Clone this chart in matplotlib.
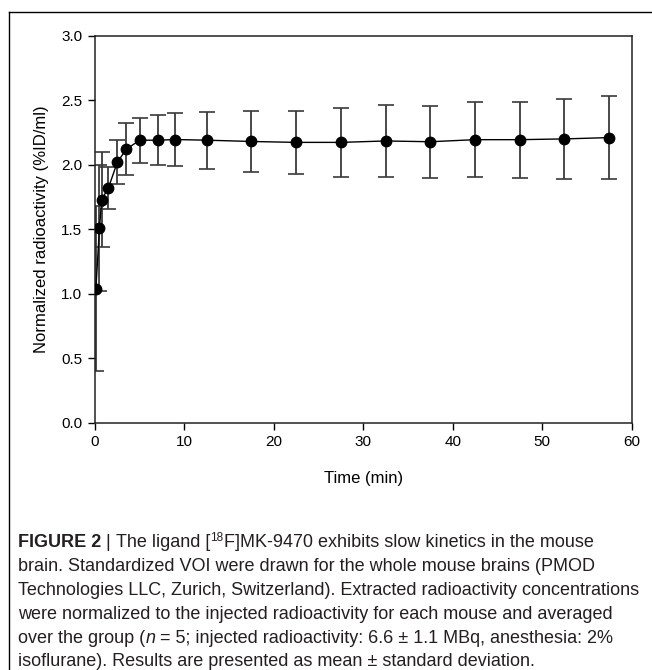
import matplotlib
matplotlib.use("Agg")
import matplotlib.pyplot as plt
from matplotlib.lines import Line2D

# ---------------------------------------------------------
# Values
# ---------------------------------------------------------
time_min = [0.1, 0.5, 0.75, 1.5, 2.5, 3.5, 5, 7, 9, 12.5, 17.5,
            22.5, 27.5, 32.5, 37.5, 42.5, 47.5, 52.5, 57.5]
mean_act = [1.04, 1.51, 1.73, 1.82, 2.02, 2.12, 2.19, 2.19, 2.195, 2.19, 2.18,
            2.173, 2.173, 2.184, 2.178, 2.194, 2.194, 2.20, 2.21]
sd_act = [0.64, 0.49, 0.37, 0.16, 0.17, 0.20, 0.175, 0.195, 0.205, 0.22, 0.235,
          0.245, 0.27, 0.28, 0.28, 0.29, 0.295, 0.31, 0.32]

x_ticks = [0, 10, 20, 30, 40, 50, 60]
y_ticks = [0.0, 0.5, 1.0, 1.5, 2.0, 2.5, 3.0]

axis_font = "Liberation Sans"
cap_font = "Liberation Sans"

W, H = 652, 670
fig = plt.figure(figsize=(W / 100, H / 100), dpi=100)
ax = fig.add_axes([95 / W, 1 - 422.7 / H, (631.5 - 95) / W, (422.7 - 35.7) / H])

# error bars first (grey), then the black line + markers on top
ax.errorbar(time_min, mean_act, yerr=sd_act, fmt='none', ecolor='#3a3a3a',
            elinewidth=1.3, capsize=6, capthick=1.2, zorder=2)
ax.plot(time_min, mean_act, color='black', linewidth=1.0, marker='o',
        markersize=7.5, zorder=3)

ax.set_xlim(0, 60)
ax.set_ylim(0, 3.0)
ax.set_xticks(x_ticks)
ax.set_yticks(y_ticks)
ax.set_xticklabels([str(t) for t in x_ticks], fontfamily=axis_font, fontsize=11)
ax.set_yticklabels([f"{v:.1f}" for v in y_ticks], fontfamily=axis_font, fontsize=11)
ax.tick_params(direction='out', length=5, width=1.0, pad=4, colors='black')
for sp in ax.spines.values():
    sp.set_linewidth(1.1)
    sp.set_color('#222222')

ax.set_xlabel("Time (min)", fontfamily=axis_font, fontsize=12, labelpad=16)
ax.set_ylabel("Normalized radioactivity (%ID/ml)", fontfamily=axis_font,
              fontsize=12, labelpad=9)

# outer frame lines (top and left) like the journal layout
fig.add_artist(Line2D([9 / W, 1], [1 - 12 / H, 1 - 12 / H], color='black', lw=1.0))
fig.add_artist(Line2D([9 / W, 9 / W], [0, 1 - 12 / H], color='black', lw=1.0))

# ---------------------------------------------------------
# Caption, built piece by piece so bold / superscript / italic work
# ---------------------------------------------------------
cap_size = 13
x0_px = 18
renderer = fig.canvas.get_renderer()


def line(pieces, y_px):
    # every piece sits on the same baseline, placed after the previous one
    x = x0_px
    for txt, kw in pieces:
        kw = dict(kw)
        dy = kw.pop('dy', 0)
        style = dict(fontsize=cap_size, family=cap_font, color='#231f20',
                     va='baseline', ha='left')
        style.update(kw)
        t = fig.text(x / W, 1 - (y_px - dy) / H, txt, **style)
        x += t.get_window_extent(renderer).width


line([("FIGURE 2", dict(weight='bold')),
      (" | ", {}),
      ("The ligand [", {}),
      ("18", dict(fontsize=cap_size * 0.65, dy=6)),
      ("F]MK-9470 exhibits slow kinetics in the mouse", {})], 547)
line([("brain. Standardized VOI were drawn for the whole mouse brains (PMOD", {})], 571)
line([("Technologies LLC, Zurich, Switzerland). Extracted radioactivity concentrations", {})], 595)
line([("were normalized to the injected radioactivity for each mouse and averaged", {})], 619)
line([("over the group (", {}),
      ("n", dict(style='italic')),
      (" = 5; injected radioactivity: 6.6 \u00b1 1.1 MBq, anesthesia: 2%", {})], 643)
line([("isoflurane). Results are presented as mean \u00b1 standard deviation.", {})], 666)

fig.savefig("out.png", dpi=100)
